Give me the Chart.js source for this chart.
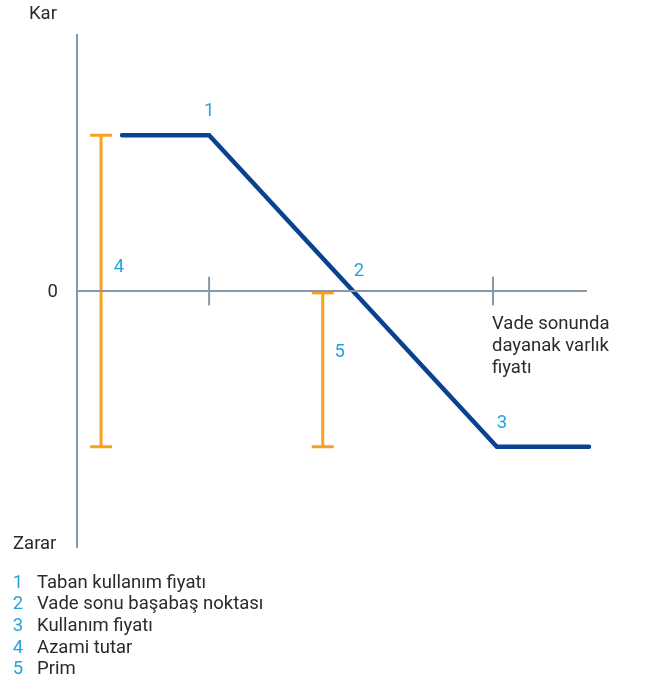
<!DOCTYPE html>
<html>
<head>
<meta charset="utf-8">
<script src="https://cdn.jsdelivr.net/npm/chart.js@4"></script>
<style>
  body { margin: 0; background: #fff; }
</style>
</head>
<body>
<canvas id="payoff" width="659" height="682"></canvas>
<script>
// price axis runs 0..100, profit axis runs -1.65..1.65 (1 = max gain, -1 = max loss)
var axisEnd = [0, 99.6];
var axisTop = 1.65;
var priceTicks = [25.8, 81.25];
var tickHalf = 0.092;
var payoffX = [8.8, 25.8, 82, 100];
var payoffY = [1, 1, -1, -1];
var maxAmountX = 4.7;
var maxAmountY = [1, -1];
var premiumX = 48;
var premiumY = [-0.012, -1];
var markers = ['1', '2', '3', '4', '5'];
var legendItems = ['Taban kullanım fiyatı', 'Vade sonu başabaş noktası', 'Kullanım fiyatı', 'Azami tutar', 'Prim'];

var gray = '#8799a6';
var navy = '#0b4191';
var orange = '#f7a11d';
var cyan = '#27a3dd';
var ink = '#2b2b2b';

function seg(x0, y0, x1, y1, color, w) {
  return {
    data: [{x: x0, y: y0}, {x: x1, y: y1}],
    borderColor: color, borderWidth: w, pointRadius: 0, clip: false, tension: 0
  };
}

var datasets = [
  seg(0, axisTop, 0, -axisTop, gray, 2),
  seg(axisEnd[0], 0, axisEnd[1], 0, gray, 2)
];
priceTicks.forEach(function (t) {
  datasets.push(seg(t, tickHalf, t, -tickHalf, gray, 2));
});
// orange ranges with caps drawn as 'line' point markers
[[maxAmountX, maxAmountY], [premiumX, premiumY]].forEach(function (b) {
  var d = seg(b[0], b[1][0], b[0], b[1][1], orange, 3);
  d.pointStyle = 'line';
  d.pointRadius = 11;
  d.pointBorderWidth = 3;
  d.pointBorderColor = orange;
  datasets.push(d);
});
datasets.push({
  data: payoffX.map(function (x, i) { return {x: x, y: payoffY[i]}; }),
  borderColor: navy, borderWidth: 4.5, pointRadius: 0, clip: false,
  borderCapStyle: 'round', borderJoinStyle: 'miter'
});

var labels = {
  id: 'labels',
  afterDraw: function (chart) {
    var c = chart.ctx, xs = chart.scales.x, ys = chart.scales.y;
    var px = function (v) { return xs.getPixelForValue(v); };
    var py = function (v) { return ys.getPixelForValue(v); };
    c.save();
    c.font = '18.5px Roboto';
    c.textBaseline = 'middle';
    c.fillStyle = ink;
    c.textAlign = 'left';
    c.fillText('Kar', 29, 14);
    c.fillText('Zarar', 13, 544);
    c.textAlign = 'right';
    c.fillText('0', 58, py(0) + 1);
    c.textAlign = 'left';
    ['Vade sonunda', 'dayanak varlık', 'fiyatı'].forEach(function (s, i) {
      c.fillText(s, px(priceTicks[1]) - 1, 324 + i * 22);
    });

    // numbered markers
    c.fillStyle = cyan;
    c.textAlign = 'center';
    var be = payoffX[1] + (payoffX[2] - payoffX[1]) / 2;
    var pos = [
      [px(payoffX[1]), py(payoffY[1]) - 24],
      [px(be) + 6, py(0) - 20],
      [px(payoffX[2]) + 5, py(payoffY[2]) - 23],
      [px(maxAmountX) + 18, py(0) - 24],
      [px(premiumX) + 17, 352]
    ];
    markers.forEach(function (m, i) { c.fillText(m, pos[i][0], pos[i][1]); });

    // legend
    legendItems.forEach(function (s, i) {
      var y = 583 + i * 21.7;
      c.fillStyle = cyan;
      c.textAlign = 'center';
      c.fillText(markers[i], 18, y);
      c.fillStyle = ink;
      c.textAlign = 'left';
      c.fillText(s, 37, y);
    });
    c.restore();
  }
};

new Chart(document.getElementById('payoff'), {
  type: 'line',
  data: { datasets: datasets },
  options: {
    responsive: false,
    animation: false,
    layout: { padding: { left: 77, right: 70, top: 34, bottom: 134 } },
    scales: {
      x: { type: 'linear', display: false, min: 0, max: 100 },
      y: { type: 'linear', display: false, min: -axisTop, max: axisTop }
    },
    plugins: { legend: { display: false }, tooltip: { enabled: false } }
  },
  plugins: [labels]
});
</script>
</body>
</html>
